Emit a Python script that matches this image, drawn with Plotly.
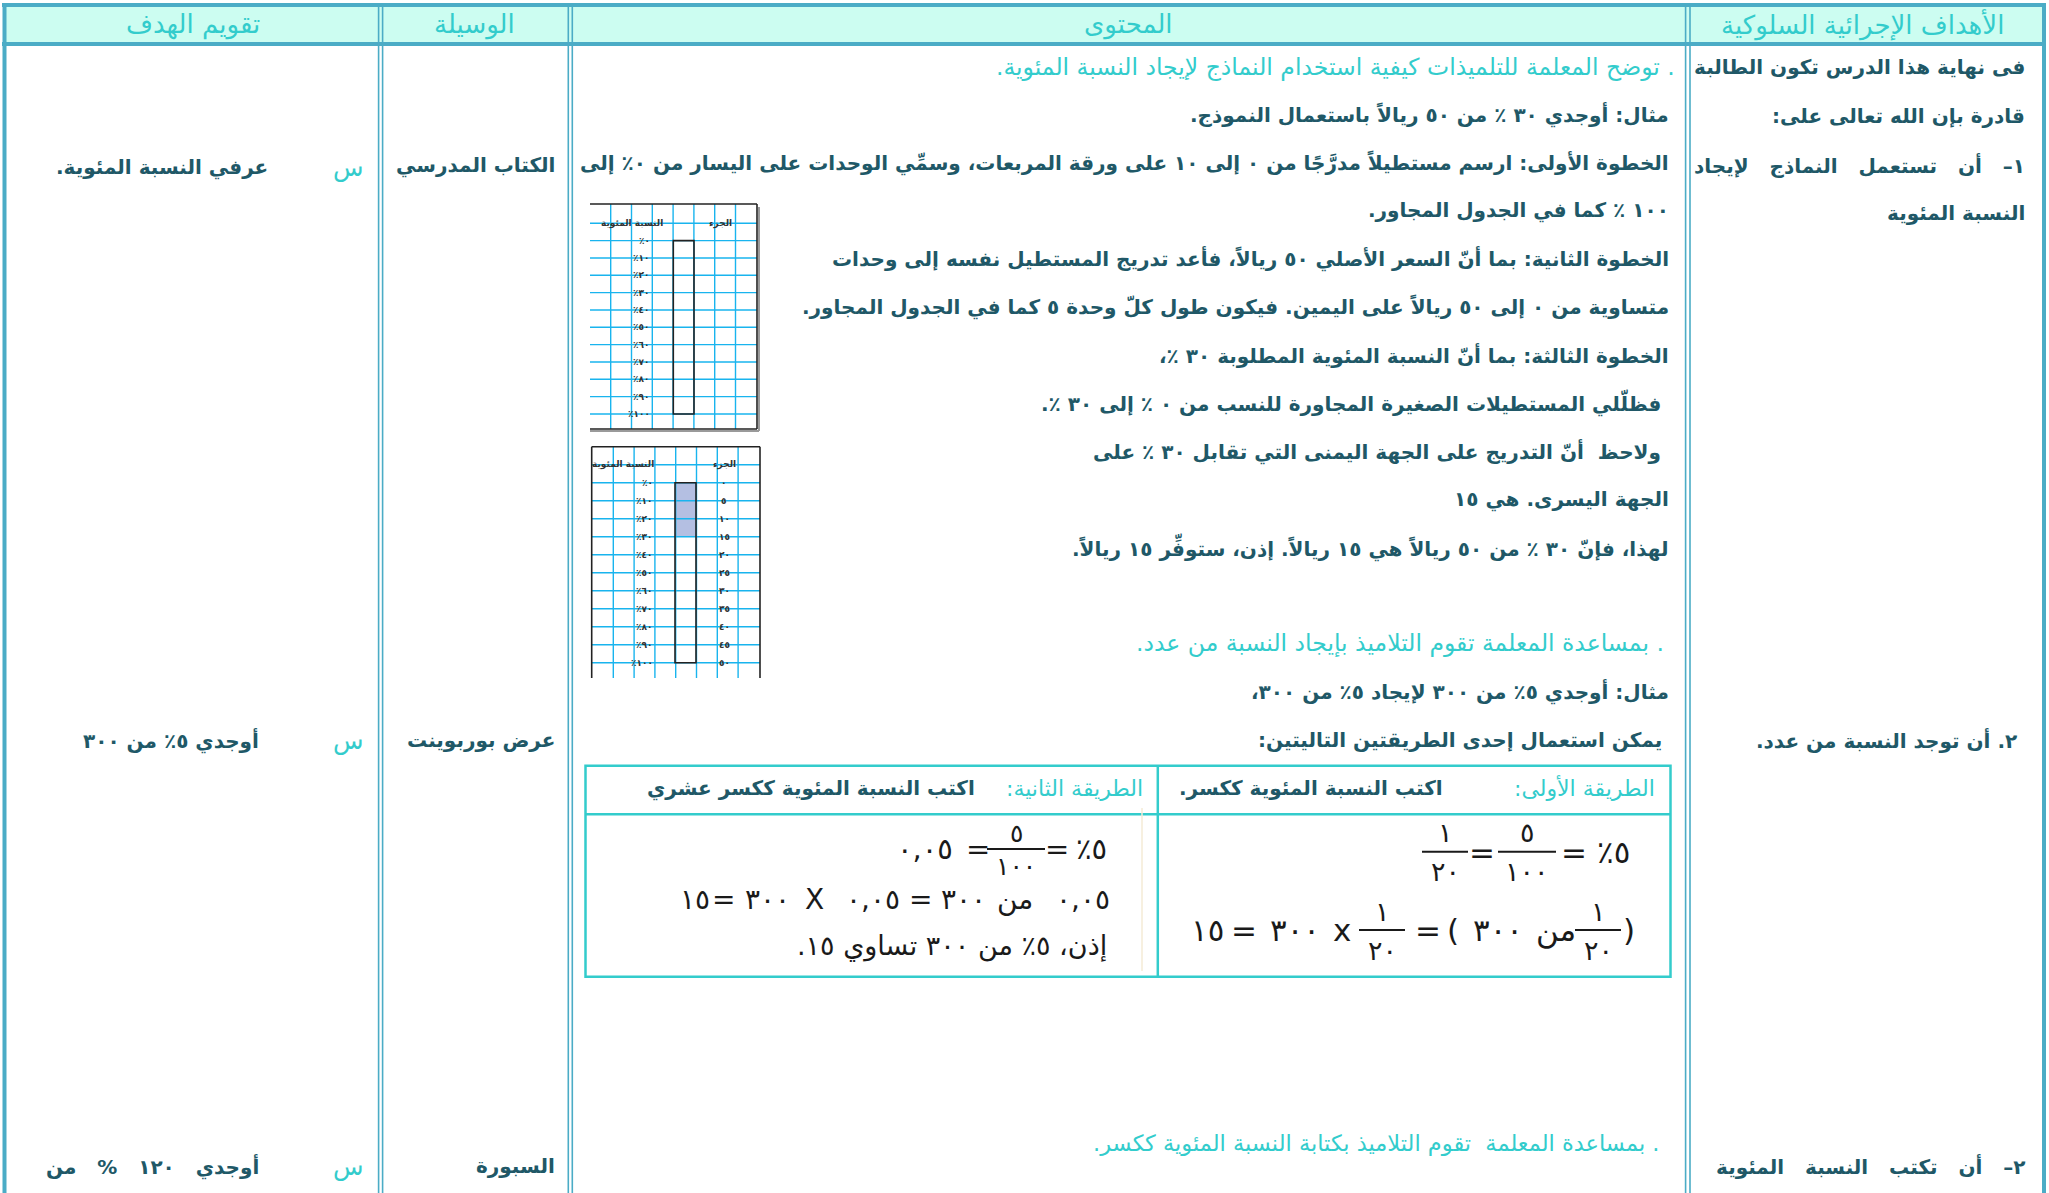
import plotly.graph_objects as go

W, H = 2049, 1193

# ---- text content ----
header_labels = ["تقويم الهدف", "الوسيلة", "المحتوى", "الأهداف الإجرائية السلوكية"]

goal_lines = ["فى نهاية هذا الدرس تكون الطالبة", "قادرة بإن الله تعالى على:",
              "١–\u00a0\u00a0 أن\u00a0\u00a0 تستعمل\u00a0\u00a0 النماذج\u00a0\u00a0 لإيجاد", "النسبة المئوية",
              "٢. أن توجد النسبة من عدد.",
              "٢–\u00a0\u00a0 أن\u00a0\u00a0 تكتب\u00a0\u00a0 النسبة\u00a0\u00a0 المئوية"]

tool_lines = ["الكتاب المدرسي", "عرض بوربوينت", "السبورة"]

eval_lines = ["عرفي النسبة المئوية.", "أوجدي ٥٪ من ٣٠٠", "أوجدي\u00a0\u00a0 ١٢٠ \u00a0\u00a0%\u00a0\u00a0 من"]
eval_mark = "س"

content_lines = [
    ". توضح المعلمة للتلميذات كيفية استخدام النماذج لإيجاد النسبة المئوية.",
    "مثال: أوجدي ٣٠ ٪ من ٥٠ ريالاً باستعمال النموذج.",
    "الخطوة الأولى: ارسم مستطيلاً مدرَّجًا من ٠ إلى ١٠ على ورقة المربعات، وسمِّي الوحدات على اليسار من ٠٪ إلى",
    "١٠٠ ٪ كما في الجدول المجاور.",
    "الخطوة الثانية: بما أنّ السعر الأصلي ٥٠ ريالاً، فأعد تدريج المستطيل نفسه إلى وحدات",
    "متساوية من ٠ إلى ٥٠ ريالاً على اليمين. فيكون طول كلّ وحدة ٥ كما في الجدول المجاور.",
    "الخطوة الثالثة: بما أنّ النسبة المئوية المطلوبة ٣٠ ٪،",
    "فظلّلي المستطيلات الصغيرة المجاورة للنسب من ٠ ٪ إلى ٣٠ ٪.",
    "ولاحظ\u00a0 أنّ التدريج على الجهة اليمنى التي تقابل ٣٠ ٪ على",
    "الجهة اليسرى. هي ١٥",
    "لهذا، فإنّ ٣٠ ٪ من ٥٠ ريالاً هي ١٥ ريالاً. إذن، ستوفِّر ١٥ ريالاً.",
    ". بمساعدة المعلمة تقوم التلاميذ بإيجاد النسبة من عدد.",
    "مثال: أوجدي ٥٪ من ٣٠٠ لإيجاد ٥٪ من ٣٠٠،",
    "يمكن استعمال إحدى الطريقتين التاليتين:",
]
content_is_note = [True] + [False] * 10 + [True, False, False]
bottom_note = ". بمساعدة المعلمة\u00a0 تقوم التلاميذ بكتابة النسبة المئوية ككسر."

method_titles = ["الطريقة الأولى:", "الطريقة الثانية:"]
method_texts = ["اكتب النسبة المئوية ككسر.", "اكتب النسبة المئوية ككسر عشري"]

# formula tokens, visual order right -> left; tuples are fractions (num, den)
f1_row1 = ["٥٪", "=", ("٥", "١٠٠"), "=", ("١", "٢٠")]
f1_row2 = [")", ("١", "٢٠"), "من", "٣٠٠", "(", "=", ("١", "٢٠"), "x", "٣٠٠", "=", "١٥"]
f2_row1 = ["٥٪", "=", ("٥", "١٠٠"), "=", "٠,٠٥"]
f2_row2 = ["٠,٠٥", "من", "٣٠٠", "=", "٠,٠٥", "X", "٣٠٠", "=", "١٥"]
f2_row3 = "إذن، ٥٪ من ٣٠٠ تساوي ١٥."

# grid model
grid_head = ["النسبة المئوية", "الجزء"]
pct_values = [0, 10, 20, 30, 40, 50, 60, 70, 80, 90, 100]
part_values = [0, 5, 10, 15, 20, 25, 30, 35, 40, 45, 50]
shade_to_pct = 30

# ---- styles / layout ----
BORDER = "#4BACC6"
HEAD_FILL = "#CCFDF1"
TURQ = "#33CCCC"
DARK = "#205867"
INK = "#1A1A1A"
CYAN = "#19B4EE"
FONT = "DejaVu Sans"
BODY = 20
NOTE = 23.5
FSIZE = 31

AR = str.maketrans("0123456789", "٠١٢٣٤٥٦٧٨٩")


def rtl(s):
    return "\u202b" + s + "\u202c"


shapes = []
ann = []


def line(x0, y0, x1, y1, color, width):
    shapes.append(dict(type="line", x0=x0, y0=y0, x1=x1, y1=y1, xref="x", yref="y",
                       line=dict(color=color, width=width)))


def rect(x0, y0, x1, y1, color=None, width=0, fill=None):
    shapes.append(dict(type="rect", x0=x0, y0=y0, x1=x1, y1=y1, xref="x", yref="y",
                       line=dict(color=color or "rgba(0,0,0,0)", width=width),
                       fillcolor=fill or "rgba(0,0,0,0)", layer="below" if fill else "above"))


def text(x, y, s, size=BODY, color=DARK, anchor="right", weight="bold", family=FONT, wrap=True):
    ann.append(dict(x=x, y=y, xref="x", yref="y", text=rtl(s) if wrap else s, showarrow=False,
                    xanchor=anchor, yanchor="middle",
                    font=dict(family=family, size=size, color=color, weight=weight)))


# outer table
rect(6, 7, 2042, 42, fill=HEAD_FILL)
line(2, 5, 2046, 5, BORDER, 4)
line(2, 44, 2046, 44, BORDER, 4)
line(4.5, 3, 4.5, H, BORDER, 4)
line(2044, 3, 2044, H, BORDER, 4)
for xd in [378.6, 382.6, 568.3, 572.3, 1685.6, 1690]:
    line(xd, 5, xd, H, BORDER, 1.6)

head_x = [193, 474, 1128, 1862]
for hx, lab in zip(head_x, header_labels):
    text(hx, 24, lab, size=26, color=TURQ, anchor="center", weight="normal")

# goals column
goal_y = [66.6, 116.3, 164.7, 213, 739.6, 1166]
goal_r = [2027, 2027, 2027, 2027, 2019, 2027]
for s, y, r in zip(goal_lines, goal_y, goal_r):
    text(r, y, s)

# tools column
for s, y in zip(tool_lines, [165, 740, 1166]):
    text(557, y, s)

# evaluation column
for s, y, r in zip(eval_lines, [167, 740, 1166], [270, 261, 261]):
    text(348, y, eval_mark, size=25, color=TURQ, anchor="center", weight="normal")
    text(r, y, s)

# content column
content_rows = [0, 1, 2, 3, 4, 5, 6, 7, 8, 9, 10, 12, 13, 14]
content_right = [1677, 1671, 1671, 1671, 1671, 1671, 1671, 1663, 1663, 1671, 1671, 1666, 1671, 1664]
for s, row, r, note in zip(content_lines, content_rows, content_right, content_is_note):
    text(r, 66.6 + row * 48.09, s, size=NOTE if note else BODY,
         color=TURQ if note else DARK, weight="normal" if note else "bold")
text(1662, 1143.5, bottom_note, size=22.5, color=TURQ, weight="normal")

# inner methods table
rect(585.5, 765.7, 1670.5, 976.7, TURQ, 2.5)
line(585.5, 814.3, 1670.5, 814.3, TURQ, 2.5)
line(1157.8, 765.7, 1157.8, 976.7, TURQ, 2.5)
line(1142, 808, 1142, 971, "#F4EBD6", 1.5)
text(1657, 788, method_titles[0], size=22, color=TURQ, weight="normal")
text(1445, 788, method_texts[0])
text(1145, 788, method_titles[1], size=22, color=TURQ, weight="normal")
text(977, 788, method_texts[1])


def formula(tokens, xs, ybar, size=FSIZE, gap=20):
    for tok, x in zip(tokens, xs):
        if isinstance(tok, tuple):
            num, den = tok
            w = 22 + 12 * max(len(num), len(den))
            line(x - w / 2, ybar, x + w / 2, ybar, INK, 2)
            text(x, ybar - gap + 1, num, size=size - 4, color=INK, anchor="center", weight="normal")
            text(x, ybar + gap, den, size=size - 4, color=INK, anchor="center", weight="normal")
        else:
            text(x, ybar, tok, size=size, color=INK, anchor="center", weight="normal",
                 wrap=tok not in "()")


formula(f1_row1, [1613, 1574, 1527, 1482, 1445], 851.7)
formula(f1_row2, [1629, 1598, 1556, 1498, 1453, 1427.6, 1382, 1342, 1294.5, 1243.6, 1207], 930)
formula(f2_row1, [1091, 1056.7, 1016, 978, 925], 849, size=29, gap=17)
formula(f2_row2, [1083, 1014.5, 963.6, 920, 872.7, 814.5, 767, 723.6, 694.5], 899, size=28)
text(1109, 946, f2_row3, size=27, color=INK, weight="normal")


# percentage-bar grids
def grid(x0, x1, y0, y1, vx0, dx, hy0, dy, nh, bar_x, pct_x, head_x, parts, left_border, bottom_border):
    for k in range(nh):
        yy = hy0 + k * dy
        if yy < y1:
            line(x0, yy, x1, yy, CYAN, 1.4)
    for k in range(7):
        line(vx0 + k * dx, y0, vx0 + k * dx, y1, CYAN, 1.4)
    line(x0, y0, x1, y0, "#222", 1.6)
    line(x1, y0, x1, y1, "#222", 1.6)
    if left_border:
        line(x0, y0, x0, y1, "#222", 1.6)
    if bottom_border:
        line(x0, y1, x1, y1, "#222", 1.6)
        line(x1 + 2, y0 + 3, x1 + 2, y1 + 2, "#9A9A9A", 2)
        line(x0, y1 + 2, x1 + 2, y1 + 2, "#9A9A9A", 2)
    ytop = hy0 + dy
    ybot = ytop + dy * (len(pct_values) - 1)
    yshade = ytop + dy * (shade_to_pct / 10)
    if parts:
        rect(bar_x[0], ytop, bar_x[1], yshade, fill="#B4BFE2")
    rect(bar_x[0], ytop, bar_x[1], ybot, "#222", 1.6)
    text(head_x[0], hy0, grid_head[0], size=9, color="#333", anchor="center")
    text(head_x[1], hy0, grid_head[1], size=9, color="#333", anchor="center")
    for i, v in enumerate(pct_values):
        text(pct_x, ytop + i * dy, str(v).translate(AR) + "٪", size=9, color="#333")
        if parts:
            text(head_x[1], ytop + i * dy, str(parts[i]).translate(AR), size=9, color="#333",
                 anchor="center")


grid(590, 757, 204, 429, 610.7, 20.8, 223.3, 17.33, 12, (673.3, 694), 652, (632, 720),
     None, False, True)
grid(591.7, 760, 446.7, 678, 613.3, 20.8, 464.7, 18, 13, (675, 696), 655, (623, 724),
     part_values, True, False)

fig = go.Figure()
fig.update_layout(
    width=W, height=H, margin=dict(l=0, r=0, t=0, b=0),
    paper_bgcolor="white", plot_bgcolor="white",
    xaxis=dict(range=[0, W], visible=False, fixedrange=True),
    yaxis=dict(range=[H, 0], visible=False, fixedrange=True),
    shapes=shapes, annotations=ann, showlegend=False,
)
fig.write_html("out.html", config={"displayModeBar": False},
               post_script="document.body.style.margin='0';document.body.style.overflow='hidden';")
